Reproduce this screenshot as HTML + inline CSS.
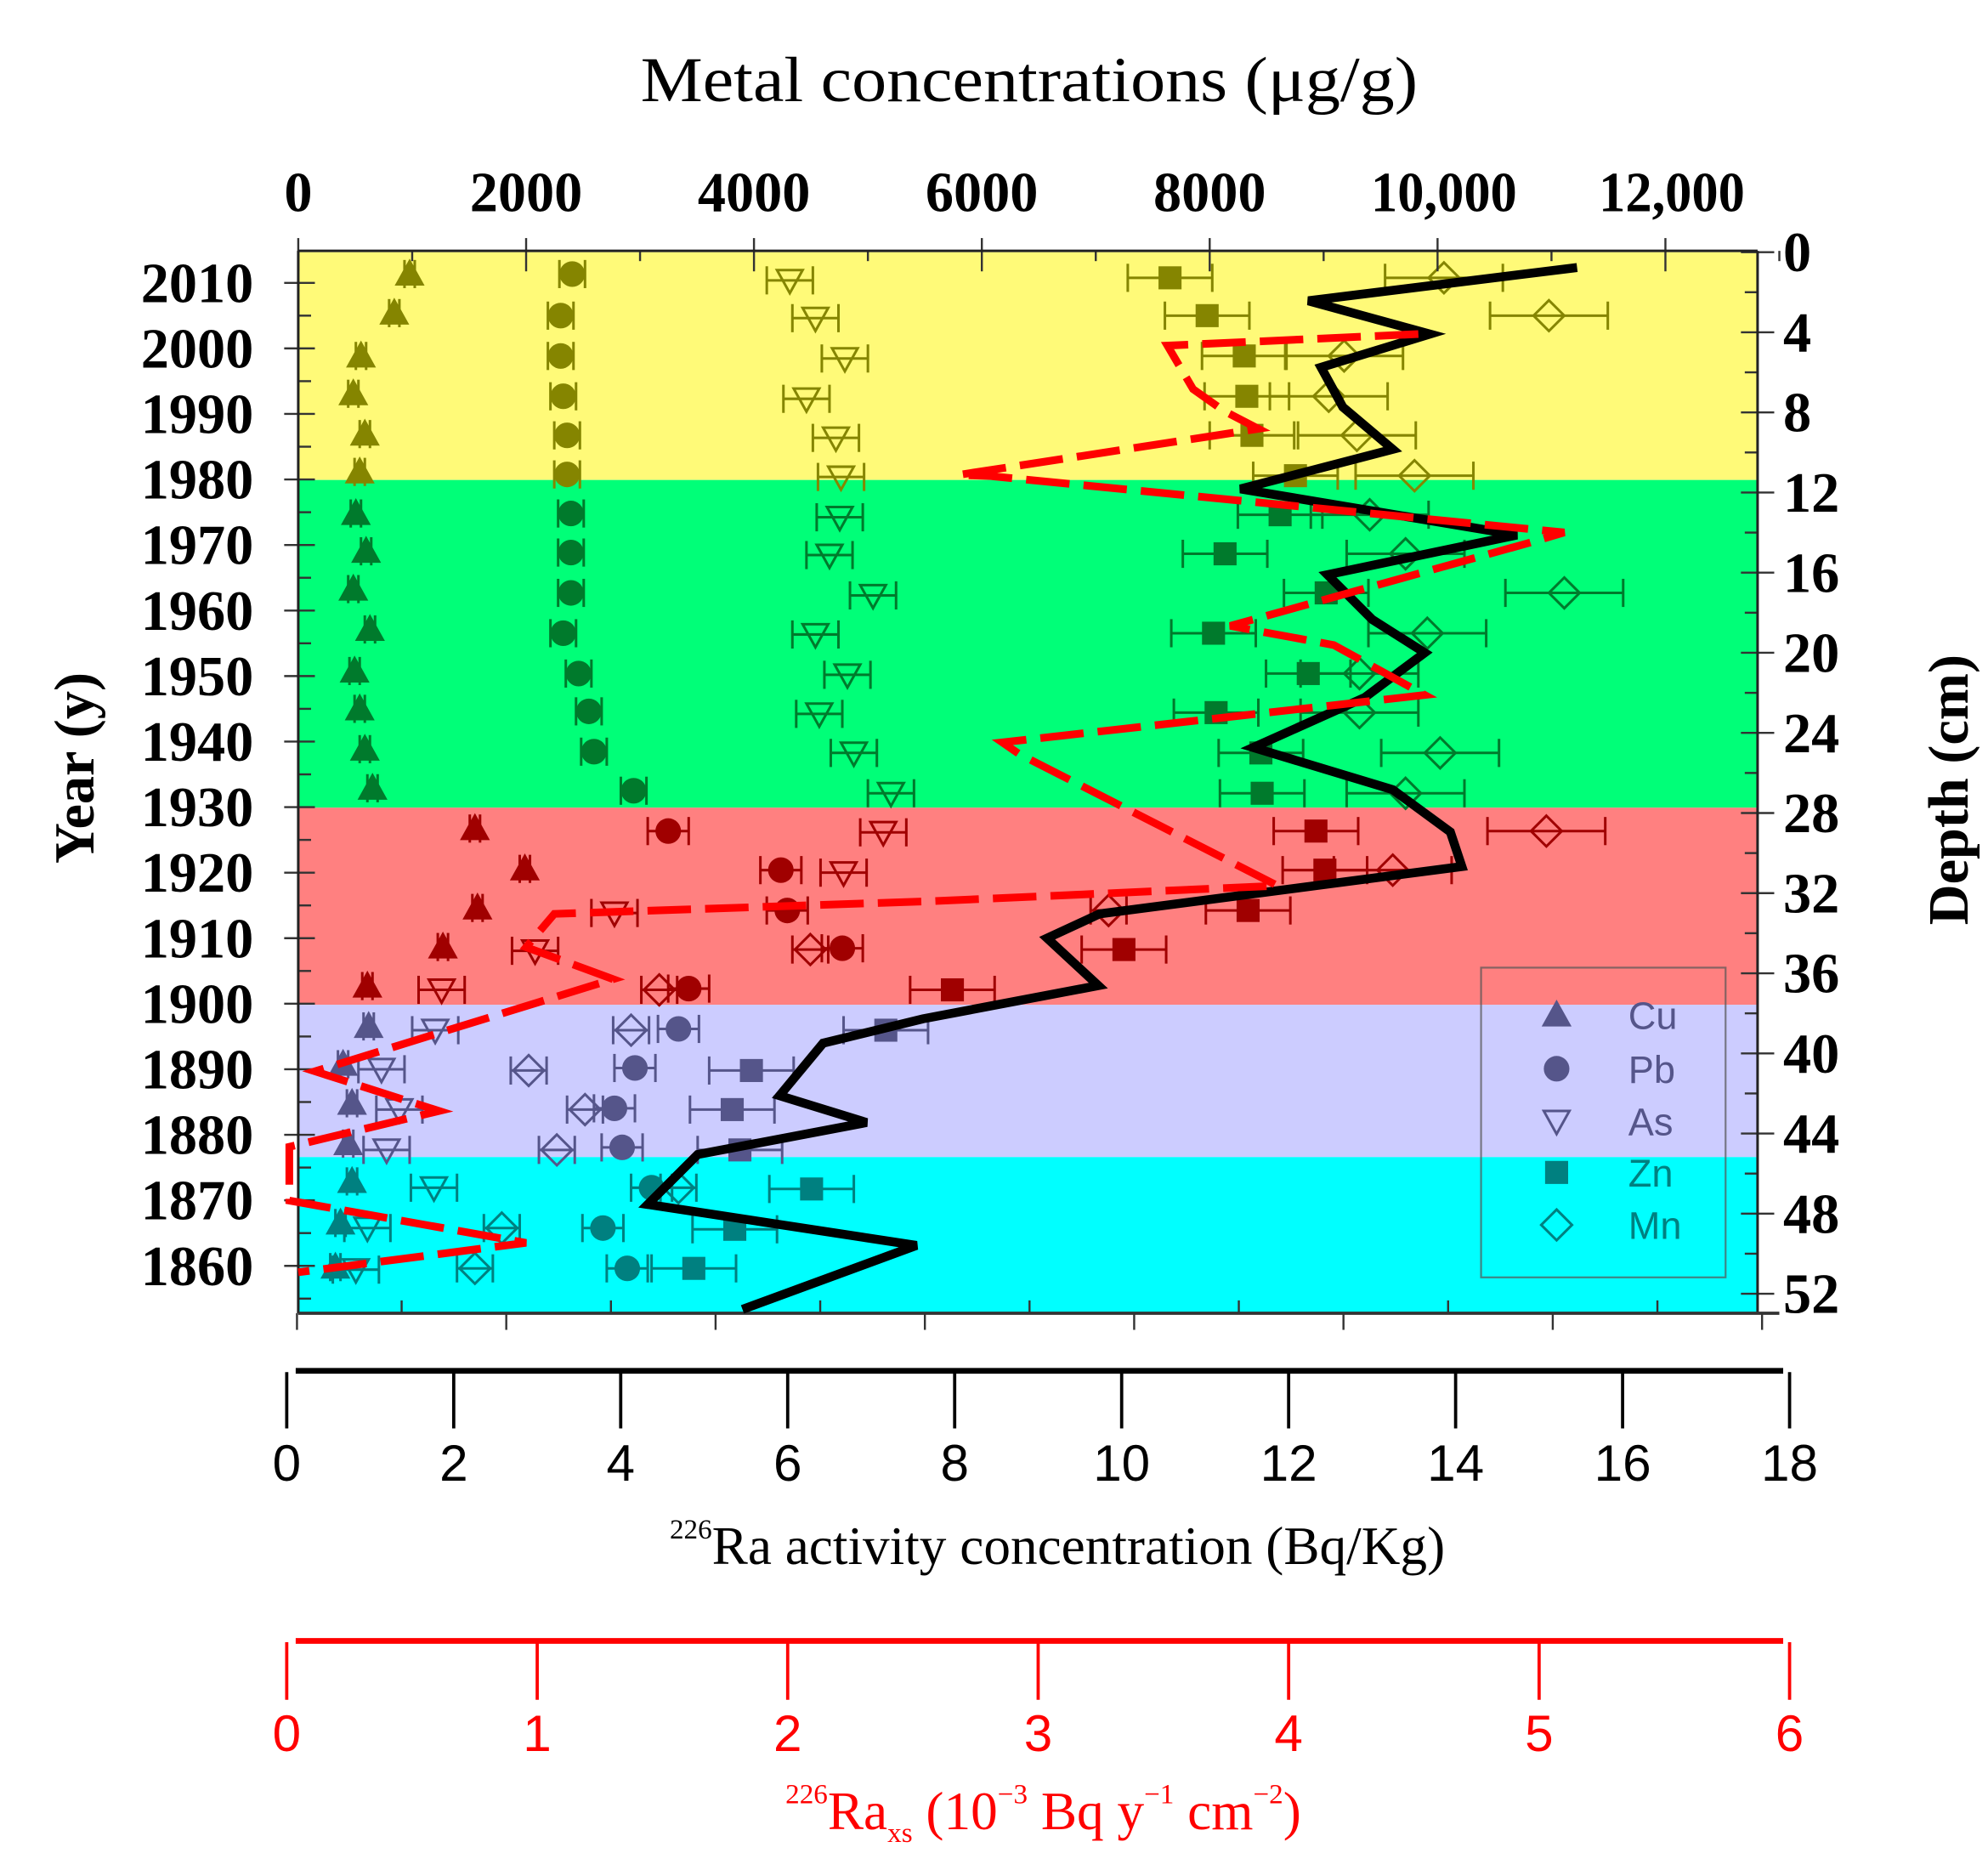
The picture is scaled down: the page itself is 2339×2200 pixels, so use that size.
<!DOCTYPE html>
<html><head><meta charset="utf-8"><style>
html,body{margin:0;padding:0;background:#fff;}
svg{display:block;}
</style></head><body>
<svg id="s" xmlns="http://www.w3.org/2000/svg" width="2339" height="2200" viewBox="0 0 1553 1461" preserveAspectRatio="none">
<rect x="0" y="0" width="1553" height="1461" fill="#fff"/>
<!-- bands -->
<rect x="233" y="197" width="1140" height="178" fill="#fffa78"/>
<rect x="233" y="375" width="1140" height="256" fill="#00ff78"/>
<rect x="233" y="631" width="1140" height="154" fill="#ff8080"/>
<rect x="233" y="785" width="1140" height="119" fill="#ccccff"/>
<rect x="233" y="904" width="1140" height="122" fill="#00ffff"/>
<g id="marks"></g>
<g id="ticks" stroke="#333" stroke-width="1.6"></g>
<!-- axes frame -->
<line x1="233" y1="196" x2="1373" y2="196" stroke="#222" stroke-width="2"/>
<line x1="233" y1="196" x2="233" y2="1026" stroke="#222" stroke-width="2"/>
<line x1="1373" y1="196" x2="1373" y2="1026" stroke="#222" stroke-width="2"/>
<line x1="233" y1="1026" x2="1390" y2="1026" stroke="#333" stroke-width="2.5"/>
<!-- legend -->
<g id="leg"></g>
<!-- black line -->
<polyline fill="none" stroke="#000" stroke-width="7" stroke-linejoin="miter" points="1232,209 1022,235 1117,261 1032,287 1049,318 1088,351 969,382 1185,418 1037,449 1072,484 1113,510 1066,545 979,584 1088,617 1133,650 1142,677 859,714 818,733 858,770 721,796 643,815 609,856 677,877 545,902 506,941 716,973 580,1023"/>
<!-- red dashed -->
<polyline fill="none" stroke="#ff0000" stroke-width="6" stroke-dasharray="34,11" points="1108,261 912,270 932,304 956,321 983,335 951,340 749,371 774,372 1222,416 1195,424 961,489 1042,504 1113,543 783,580 796,589 998,692 730,704 433,714 411,740 479,765 246,837 343,868 226,896 226,929 226,938 411,971 233,994"/>
<!-- titles -->
<text x="804" y="79" font-family="Liberation Serif, serif" font-size="50" text-anchor="middle" textLength="607" lengthAdjust="spacingAndGlyphs">Metal concentrations (μg/g)</text>
<g font-family="Liberation Serif, serif" font-weight="bold" font-size="44" text-anchor="middle">
<text x="233" y="165">0</text><text x="411" y="165">2000</text><text x="589" y="165">4000</text><text x="767" y="165">6000</text><text x="945" y="165">8000</text>
<text x="1128" y="165" textLength="114" lengthAdjust="spacingAndGlyphs">10,000</text><text x="1306" y="165" textLength="114" lengthAdjust="spacingAndGlyphs">12,000</text>
</g>
<g id="ylab" font-family="Liberation Serif, serif" font-weight="bold" font-size="44" text-anchor="end"></g>
<g id="dlab" font-family="Liberation Serif, serif" font-weight="bold" font-size="44" text-anchor="start"></g>
<text transform="translate(73,600) rotate(-90)" font-family="Liberation Serif, serif" font-weight="bold" font-size="44" text-anchor="middle">Year (y)</text>
<text transform="translate(1537,617) rotate(-90)" font-family="Liberation Serif, serif" font-weight="bold" font-size="44" text-anchor="middle">Depth (cm)</text>
<!-- bottom black axis -->
<line x1="231" y1="1071" x2="1393" y2="1071" stroke="#000" stroke-width="4.5"/>
<g id="bax" stroke="#000" stroke-width="2.5"></g>
<g id="baxl" font-family="Liberation Sans, sans-serif" font-size="40" text-anchor="middle"></g>
<text x="826" y="1222" font-family="Liberation Serif, serif" font-size="42" text-anchor="middle"><tspan font-size="22" dy="-20">226</tspan><tspan dy="20">Ra activity concentration (Bq/Kg)</tspan></text>
<!-- red axis -->
<line x1="231" y1="1282" x2="1393" y2="1282" stroke="#f00" stroke-width="4.5"/>
<g id="rax" stroke="#f00" stroke-width="2.5"></g>
<g id="raxl" font-family="Liberation Sans, sans-serif" font-size="40" text-anchor="middle" fill="#f00"></g>
<text x="815" y="1429" font-family="Liberation Serif, serif" font-size="42" text-anchor="middle" fill="#f00"><tspan font-size="22" dy="-20">226</tspan><tspan dy="20">Ra</tspan><tspan font-size="22" dy="10">xs</tspan><tspan dy="-10"> (10</tspan><tspan font-size="22" dy="-20">−3</tspan><tspan dy="20"> Bq y</tspan><tspan font-size="22" dy="-20">−1</tspan><tspan dy="20"> cm</tspan><tspan font-size="22" dy="-20">−2</tspan><tspan dy="20">)</tspan></text>
</svg>
<script>
(function(){
var NS="http://www.w3.org/2000/svg";
function el(p,t,a,txt){var e=document.createElementNS(NS,t);for(var k in a)e.setAttribute(k,a[k]);if(txt!==undefined)e.textContent=txt;document.getElementById(p).appendChild(e);return e;}
function Y(y){return 221+(y-222)*0.9846;}
function col(y){if(y<375)return"#858500";if(y<631)return"#007a2c";if(y<785)return"#a00000";if(y<904)return"#55558a";return"#008080";}
var cu=[[320,215],[308,246],[282,280],[276,310],[285,342],[281,372],[278,405],[286,435],[276,465],[289,497],[277,530],[281,560],[285,592],[291,623],[371,655],[410,687],[373,718],[346,749],[287,780],[288,812],[268,842],[275,873],[272,905],[275,935],[266,968],[262,1003]];
var pb=[[447,215],[438,248],[438,280],[440,312],[443,343],[443,374],[446,405],[446,436],[446,468],[440,500],[452,532],[460,562],[464,594],[495,625],[522,657],[610,688],[615,720],[658,750],[538,782],[530,814],[496,845],[480,877],[486,908],[509,940],[471,972],[490,1004]];
var as=[[617,220],[637,250],[660,282],[630,314],[653,345],[657,376],[656,408],[648,438],[682,470],[637,501],[662,533],[640,564],[667,595],[696,627],[690,658],[659,690],[480,722],[418,752],[345,783],[340,815],[298,846],[312,878],[302,910],[339,940],[287,972],[278,1005]];
var zn=[[914,218],[943,248],[972,280],[974,312],[978,343],[1012,375],[1000,406],[957,437],[1036,468],[948,500],[1022,532],[950,563],[985,595],[986,627],[1028,657],[1035,688],[975,720],[878,751],[744,783],[692,815],[587,847],[572,878],[578,910],[634,941],[574,973],[542,1004]];
var mn=[[1128,218],[1210,248],[1050,280],[1038,312],[1060,343],[1105,375],[1070,406],[1098,437],[1222,468],[1115,500],[1062,532],[1062,563],[1125,595],[1098,627],[1208,657],[1088,688],[866,720],[633,751],[515,783],[493,815],[413,847],[457,878],[435,910],[530,940],[392,972],[371,1004]];
function eb(x,y,w,c){el("marks","line",{x1:x-w,y1:y,x2:x+w,y2:y,stroke:c,"stroke-width":2});el("marks","line",{x1:x-w,y1:y-11,x2:x-w,y2:y+11,stroke:c,"stroke-width":2});el("marks","line",{x1:x+w,y1:y-11,x2:x+w,y2:y+11,stroke:c,"stroke-width":2});}
function tri(p,x,y,c,up,fill){var s=10,pts=up?[x-s,y+8,x+s,y+8,x,y-10]:[x-s,y-8,x+s,y-8,x,y+10];el(p,"polygon",{points:pts.join(","),fill:fill?c:"none",stroke:c,"stroke-width":2});}
function dia(p,x,y,c){el(p,"polygon",{points:[x,y-12,x+12,y,x,y+12,x-12,y].join(","),fill:"none",stroke:c,"stroke-width":2});}
zn.forEach(function(d){var y=Y(d[1]),c=col(y);eb(d[0],y,33,c);el("marks","rect",{x:d[0]-9,y:y-9,width:18,height:18,fill:c});});
mn.forEach(function(d){var y=Y(d[1]),c=col(y);eb(d[0],y,d[1]>700?14:46,c);dia("marks",d[0],y,c);});
as.forEach(function(d){var y=Y(d[1]),c=col(y);eb(d[0],y,18,c);tri("marks",d[0],y,c,false,false);});
pb.forEach(function(d){var y=Y(d[1]),c=col(y);eb(d[0],y,d[1]>640?16:10,c);el("marks","circle",{cx:d[0],cy:y,r:10,fill:c});});
cu.forEach(function(d){var y=Y(d[1]),c=col(y);eb(d[0],y,4,c);tri("marks",d[0],y,c,true,true);});
// ticks
var t;
for(var v=0;v<=13000;v+=1000){var x=233+v*0.089;var maj=v%2000==0;el("ticks","line",{x1:x,y1:maj?186:196,x2:x,y2:maj?212:204});}
for(var i=0;i<=7;i++){var x=232+i*163.5;el("ticks","line",{x1:x,y1:1026,x2:x,y2:1039});if(i<7)el("ticks","line",{x1:x+81.75,y1:1026,x2:x+81.75,y2:1016});}
for(var yr=1855;yr<=2015;yr+=5){var y=Y(222+(2010-yr)*5.2);if(y<198||y>1025)continue;var maj=yr%10==0;el("ticks","line",{x1:maj?222:233,y1:y,x2:maj?246:243,y2:y});if(maj)el("ylab","text",{x:198,y:y+15},String(yr));}
for(var d=0;d<=52;d+=2){var y=197+d*15.65;var maj=d%4==0;el("ticks","line",{x1:maj?1360:1363,y1:y,x2:maj?1386:1373,y2:y});if(maj)el("dlab","text",{x:1393,y:y+15},String(d));}
// bottom axes
for(var i=0;i<=9;i++){var x=224+i*(1174/9);el("bax","line",{x1:x,y1:1072,x2:x,y2:1116});el("baxl","text",{x:x,y:1157},String(i*2));}
for(var i=0;i<=6;i++){var x=224+i*(1174/6);el("rax","line",{x1:x,y1:1283,x2:x,y2:1328});el("raxl","text",{x:x,y:1368},String(i));}
// legend
el("leg","rect",{x:1157,y:756,width:191,height:242,fill:"none",stroke:"#555",  "stroke-width":1.5,opacity:0.7});
var L=[["Cu",793],["Pb",835],["As",876],["Zn",916],["Mn",957]];
L.forEach(function(l,i){var c=l[1]<904?"#55558a":"#008080";var x=1216,y=l[1];
if(i==0)tri("leg",x,y,c,true,true);if(i==1)el("leg","circle",{cx:x,cy:y,r:10,fill:c});if(i==2)tri("leg",x,y,c,false,false);if(i==3)el("leg","rect",{x:x-9,y:y-9,width:18,height:18,fill:c});if(i==4)dia("leg",x,y,c);
el("leg","text",{x:1272,y:y+11,"font-family":"Liberation Sans, sans-serif","font-size":30,fill:c},l[0]);});
})();
</script>
</body></html>
